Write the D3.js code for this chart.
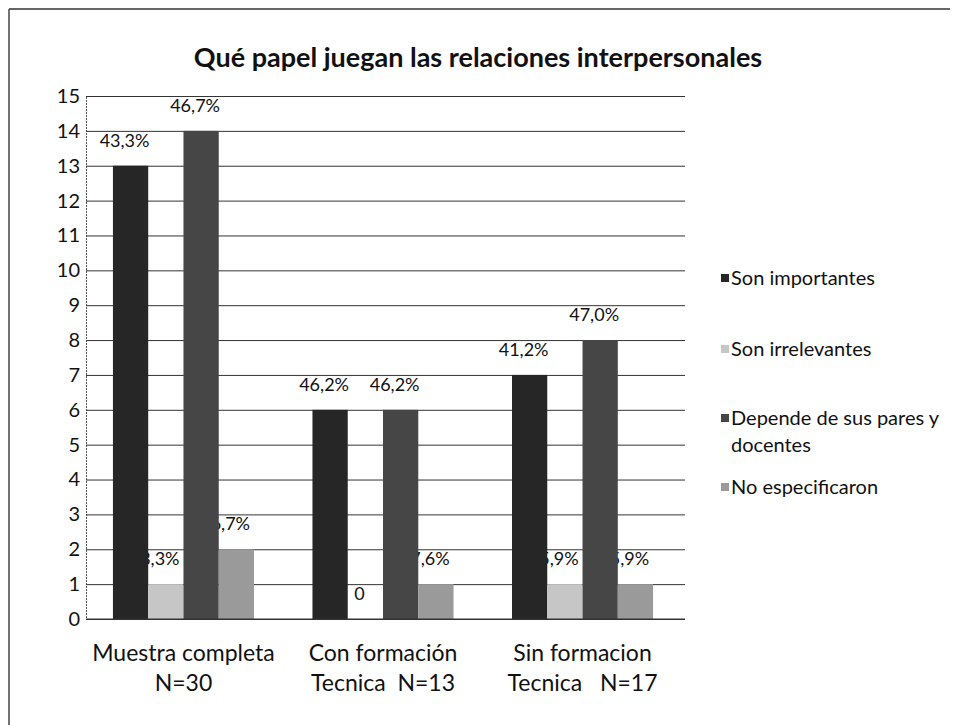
<!DOCTYPE html>
<html>
<head>
<meta charset="utf-8">
<script src="https://cdn.jsdelivr.net/npm/d3@7"></script>
<style>
  html, body { margin: 0; padding: 0; background: #fff; }
  svg text { font-family: Lato, "Open Sans", sans-serif; fill: #111; }
</style>
</head>
<body>
<svg id="chart" width="956" height="725"></svg>
<script>
const title = "Qué papel juegan las relaciones interpersonales";
const categories = [["Muestra completa", "N=30"], ["Con formación", "Tecnica  N=13"], ["Sin formacion", "Tecnica   N=17"]];
const seriesNames = ["Son importantes", "Son irrelevantes", "Depende de sus pares y docentes", "No especificaron"];
const sonImportantes = [13, 6, 7];
const sonIrrelevantes = [1, 0, 1];
const dependeParesDocentes = [14, 6, 8];
const noEspecificaron = [2, 1, 1];
const labelsImportantes = ["43,3%", "46,2%", "41,2%"];
const labelsIrrelevantes = ["3,3%", "0", "5,9%"];
const labelsDepende = ["46,7%", "46,2%", "47,0%"];
const labelsNoEsp = ["6,7%", "7,6%", "5,9%"];
const yTicks = d3.range(0, 16);

const seriesValues = [sonImportantes, sonIrrelevantes, dependeParesDocentes, noEspecificaron];
const seriesLabels = [labelsImportantes, labelsIrrelevantes, labelsDepende, labelsNoEsp];
const colors = ["#262626", "#c6c6c6", "#464646", "#9a9a9a"];

const svg = d3.select("#chart");

// outer border (top and left visible)
svg.append("line").attr("x1", 9).attr("x2", 950).attr("y1", 9).attr("y2", 9)
  .attr("stroke", "#333").attr("stroke-width", 1.5);
svg.append("line").attr("x1", 9).attr("x2", 9).attr("y1", 9).attr("y2", 725)
  .attr("stroke", "#444").attr("stroke-width", 1.5);

svg.append("text").attr("x", 478).attr("y", 67).attr("text-anchor", "middle")
  .attr("font-size", 27).attr("font-weight", "bold").text(title);

const plot = { left: 86, right: 685, top: 96, bottom: 619 };
const y = d3.scaleLinear().domain([0, 15]).range([plot.bottom, plot.top]);
const x0 = d3.scaleBand().domain(d3.range(categories.length)).range([plot.left, plot.left + 594])
  .paddingInner(0.293).paddingOuter(0.135);
const x1 = d3.scaleBand().domain(d3.range(seriesNames.length)).range([0, x0.bandwidth()]);

// gridlines
const yAxis = d3.axisLeft(y).tickValues(yTicks).tickSize(-(plot.right - plot.left)).tickPadding(10);
const gY = svg.append("g").attr("transform", `translate(${plot.left},0)`).call(yAxis);
gY.select(".domain").attr("stroke", "#555").attr("stroke-dasharray", "2,1");
gY.selectAll(".tick line").attr("stroke", "#333").attr("stroke-width", 1);
gY.selectAll(".tick text").attr("font-size", 20).attr("fill", "#111").attr("x", -6)
  .style("font-family", "Lato, sans-serif");

// labels (drawn beneath bars)
const labelG = svg.append("g");
seriesValues.forEach((vals, s) => {
  vals.forEach((v, c) => {
    const cx = x0(c) + x1(s) + x1.bandwidth() / 2;
    labelG.append("text").attr("x", cx - 6).attr("y", y(v) - 19)
      .attr("text-anchor", "middle").attr("font-size", 18)
      .text(seriesLabels[s][c]);
  });
});
const barG = svg.append("g");
seriesValues.forEach((vals, s) => {
  barG.selectAll(null).data(vals).join("rect")
    .attr("x", (d, c) => x0(c) + x1(s))
    .attr("width", x1.bandwidth())
    .attr("y", d => y(d))
    .attr("height", d => y(0) - y(d))
    .attr("fill", colors[s]);
});

// x axis line
svg.append("line").attr("x1", plot.left).attr("x2", plot.right).attr("y1", plot.bottom).attr("y2", plot.bottom)
  .attr("stroke", "#333");

// x category labels
categories.forEach((lines, c) => {
  const cx = x0(c) + x0.bandwidth() / 2;
  lines.forEach((ln, i) => {
    svg.append("text").attr("x", cx).attr("y", 661 + i * 30)
      .attr("text-anchor", "middle").attr("font-size", 23)
      .style("white-space", "pre").text(ln);
  });
});

// legend
const legendItems = [
  { lines: ["Son importantes"], y: 278 },
  { lines: ["Son irrelevantes"], y: 349 },
  { lines: ["Depende de sus pares y", "docentes"], y: 418 },
  { lines: ["No especificaron"], y: 487 }
];
legendItems.forEach((it, s) => {
  svg.append("rect").attr("x", 721).attr("y", it.y - 4).attr("width", 8).attr("height", 8).attr("fill", colors[s]);
  it.lines.forEach((ln, i) => {
    svg.append("text").attr("x", 731).attr("y", it.y + 7 + i * 27).attr("font-size", 20).text(ln);
  });
});
</script>
</body>
</html>
